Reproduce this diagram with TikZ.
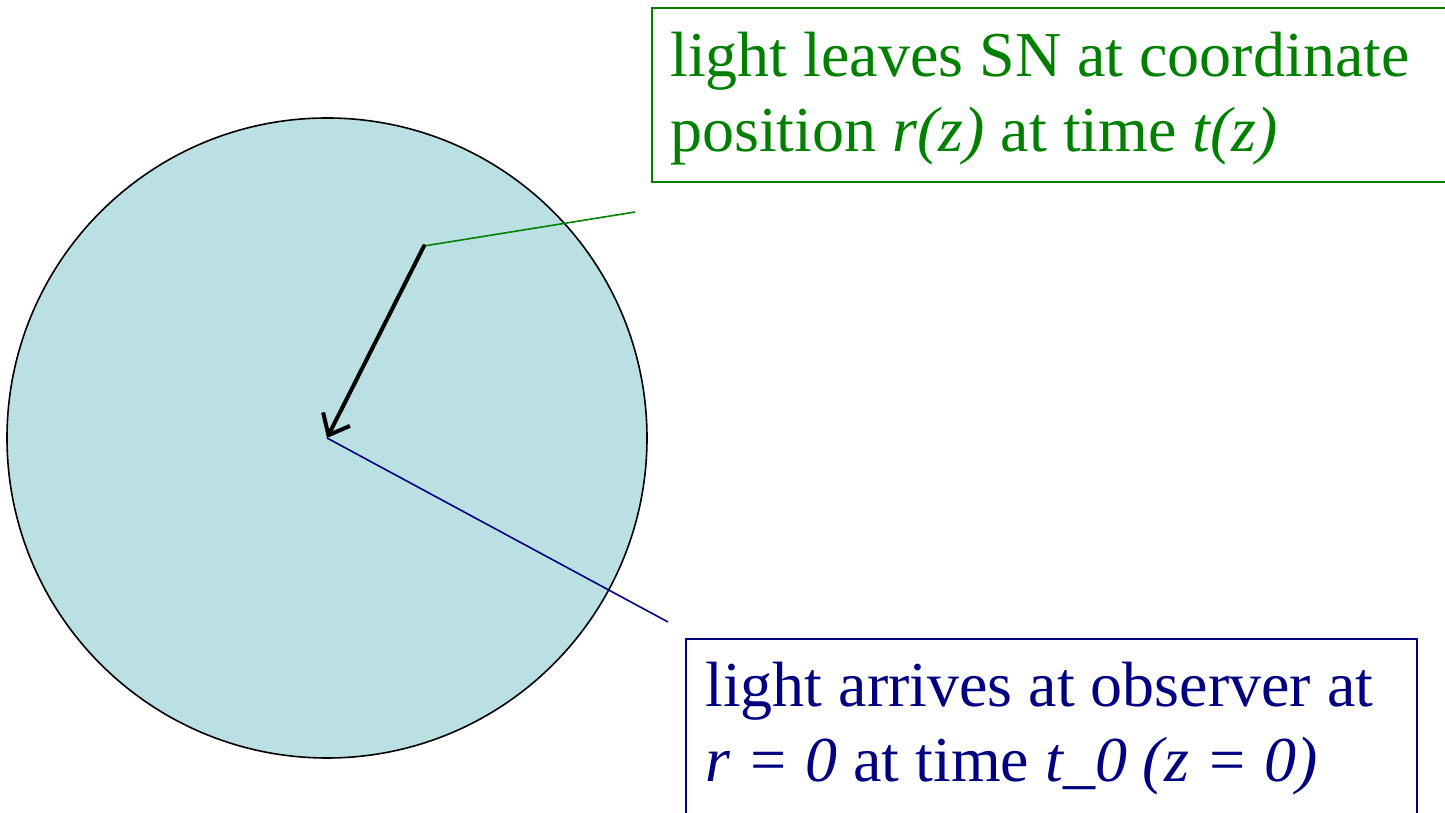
\documentclass[tikz,border=0pt]{standalone}
\usepackage{fontspec}
\setmainfont{Liberation Serif}
\usetikzlibrary{arrows.meta}
\definecolor{gtext}{RGB}{0,128,0}
\definecolor{btext}{RGB}{0,0,128}
\definecolor{cfill}{RGB}{187,224,227}
\tikzset{
  labelbox/.style={draw, line width=2pt, inner sep=0pt, anchor=north west},
  labeltext/.style={anchor=base west, inner sep=0pt, align=left, font=\fontsize{64}{75}\selectfont},
  leader/.style={line width=1.6pt},
}
\begin{document}
\begin{tikzpicture}[x=1pt,y=1pt]
\useasboundingbox (0,0) rectangle (1445,813);
\clip (0,0) rectangle (1445,813);
% circle
\node[circle, draw=black, line width=1.6pt, fill=cfill, minimum size=640pt, inner sep=0pt] (univ) at (327,375) {};
\coordinate (obs) at (327,375);
\coordinate (sn) at (424,567);
% green box
\node[labelbox, draw=gtext, minimum width=820pt, minimum height=174pt] (gbox) at (651,806) {};
\node[labeltext, text=gtext] (gtxt) at (670,661) {light leaves SN at coordinate\\position \textit{r(z)} at time \textit{t(z)}};
% blue box
\node[labelbox, draw=btext, minimum width=731pt, minimum height=200pt] (bbox) at (685,175) {};
\node[labeltext, text=btext] (btxt) at (705,31) {light arrives at observer at\\\textit{r = 0} at time \textit{t\_0 (z = 0)}};
% leaders
\coordinate (gend) at (635,601);
\coordinate (bend) at (668,191);
\draw[leader, draw=gtext] (sn) -- (gend);
\draw[leader, draw=btext] (obs) -- (bend);
% arrow
\draw[line width=4pt, line cap=round, -{Straight Barb[length=18pt,width=30pt,line width=4pt]}] (sn) -- (obs);
\end{tikzpicture}
\end{document}
